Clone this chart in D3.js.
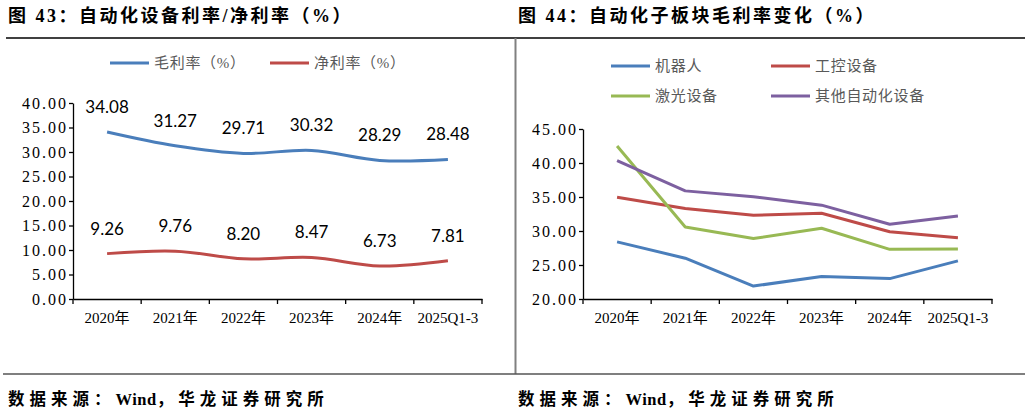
<!DOCTYPE html>
<html>
<head>
<meta charset="utf-8">
<script src="https://cdn.jsdelivr.net/npm/d3@7"></script>
<style>
  body { margin: 0; background: #fff; }
  svg { display: block; }
  .title { font-family: "Liberation Serif", "Noto Sans CJK SC"; font-weight: bold; font-size: 18px; letter-spacing: 2.5px; fill: #000; }
  .source { font-family: "Liberation Serif", "Noto Sans CJK SC"; font-weight: bold; font-size: 16.5px; letter-spacing: 5px; fill: #000; }
  .legend text { font-family: "Liberation Serif", "Noto Sans CJK SC"; font-size: 15px; letter-spacing: 0.7px; fill: #595959; }
  .axis text { font-family: "Liberation Serif", "Noto Sans CJK SC"; font-size: 15px; fill: #000; }
  .axis path, .axis line { stroke: #000; stroke-width: 1.3; }
  .ylab text { font-size: 16px; letter-spacing: 2px; }
  .dlabel { font-family: Lato, "Liberation Sans"; font-size: 17px; fill: #000; }
</style>
</head>
<body>
<script>
// Categories and values
var years = ["2020年", "2021年", "2022年", "2023年", "2024年", "2025Q1-3"];
var grossMargin = [34.08, 31.27, 29.71, 30.32, 28.29, 28.48];
var netMargin = [9.26, 9.76, 8.20, 8.47, 6.73, 7.81];

var robot = [28.4, 26.0, 21.9, 23.3, 23.0, 25.6];
var control = [34.95, 33.3, 32.3, 32.6, 29.9, 29.0];
var laser = [42.5, 30.6, 28.9, 30.4, 27.3, 27.35];
var other = [40.35, 35.9, 35.05, 33.8, 31.0, 32.2];

var leftTicks = [0, 5, 10, 15, 20, 25, 30, 35, 40];
var rightTicks = [20, 25, 30, 35, 40, 45];

var w = 1025, h = 417;
var blue = "#4A7EBB", red = "#BE4B48", green = "#98B954", purple = "#7D60A0";

var svg = d3.select("body").append("svg")
    .attr("width", w)
    .attr("height", h);

// Frame lines
svg.append("line").attr("x1", 6).attr("x2", w).attr("y1", 38).attr("y2", 38)
    .attr("stroke", "#000").attr("stroke-width", 1.5);
svg.append("line").attr("x1", 515.5).attr("x2", 515.5).attr("y1", 38).attr("y2", 374)
    .attr("stroke", "#808080").attr("stroke-width", 2);
svg.append("line").attr("x1", 3).attr("x2", w).attr("y1", 374).attr("y2", 374)
    .attr("stroke", "#555").attr("stroke-width", 1.3);

// Titles and sources
svg.append("text").attr("class", "title").attr("x", 8).attr("y", 22)
    .text("图 43：自动化设备利率/净利率（%）");
svg.append("text").attr("class", "title").attr("x", 518).attr("y", 22)
    .text("图 44：自动化子板块毛利率变化（%）");

function addSource(x) {
  var t = svg.append("text").attr("class", "source").attr("x", x).attr("y", 405);
  t.append("tspan").text("数据来源：");
  t.append("tspan").style("letter-spacing", "0.5px").text("Wind");
  t.append("tspan").text("，华龙证券研究所");
}
addSource(8);
addSource(518);

// Draw one panel: axes, lines, and optional labels
function drawPanel(opts) {
  var x = d3.scaleBand().domain(years).range([opts.x0, opts.x1]);
  var y = d3.scaleLinear().domain(opts.domain).range([299, opts.yTop]);

  var g = svg.append("g");

  // y axis
  g.append("g")
      .attr("class", "axis ylab")
      .attr("transform", "translate(" + opts.x0 + ",0)")
      .call(d3.axisLeft(y).tickValues(opts.ticks).tickFormat(d3.format(".2f"))
        .tickSize(4).tickSizeOuter(0).tickPadding(1));

  // x axis, labels only, tick marks on band edges
  var xa = g.append("g")
      .attr("class", "axis")
      .attr("transform", "translate(0,299)")
      .call(d3.axisBottom(x).tickSize(0).tickSizeOuter(0).tickPadding(13));
  xa.selectAll(".tick text").attr("dy", "0.71em");
  var edges = years.map(function(d) { return x(d); }).concat([opts.x1]);
  xa.selectAll(".edge")
      .data(edges)
      .enter().append("line")
      .attr("x1", function(d) { return d; })
      .attr("x2", function(d) { return d; })
      .attr("y1", 0).attr("y2", 5);

  var line = d3.line()
      .x(function(d, i) { return x(years[i]) + x.bandwidth() / 2; })
      .y(function(d) { return y(d); })
      .curve(opts.smooth ? d3.curveCatmullRom.alpha(0.5) : d3.curveLinear);

  opts.series.forEach(function(s) {
    g.append("path")
        .datum(s.values)
        .attr("fill", "none")
        .attr("stroke", s.color)
        .attr("stroke-width", 3)
        .attr("stroke-linejoin", "round")
        .attr("d", line);

    if (opts.labels) {
      g.selectAll(null)
          .data(s.values)
          .enter().append("text")
          .attr("class", "dlabel")
          .attr("text-anchor", "middle")
          .attr("x", function(d, i) { return x(years[i]) + x.bandwidth() / 2; })
          .attr("y", function(d) { return y(d) - 19; })
          .text(function(d) { return d.toFixed(2); });
    }
  });

  // Legend
  var lg = svg.append("g").attr("class", "legend");
  opts.legend.forEach(function(l) {
    lg.append("line")
        .attr("x1", l.x).attr("x2", l.x + 39)
        .attr("y1", l.y).attr("y2", l.y)
        .attr("stroke", l.color).attr("stroke-width", 3);
    lg.append("text")
        .attr("x", l.x + 44).attr("y", l.y)
        .attr("dy", "0.36em")
        .text(l.name);
  });
}

drawPanel({
  x0: 73, x1: 482, yTop: 103, domain: [0, 40], ticks: leftTicks,
  smooth: true, labels: true,
  series: [
    { values: grossMargin, color: blue },
    { values: netMargin, color: red }
  ],
  legend: [
    { name: "毛利率（%）", color: blue, x: 110, y: 63 },
    { name: "净利率（%）", color: red, x: 270, y: 63 }
  ]
});

drawPanel({
  x0: 583, x1: 992, yTop: 129, domain: [20, 45], ticks: rightTicks,
  smooth: false, labels: false,
  series: [
    { values: robot, color: blue },
    { values: control, color: red },
    { values: laser, color: green },
    { values: other, color: purple }
  ],
  legend: [
    { name: "机器人", color: blue, x: 611, y: 66 },
    { name: "工控设备", color: red, x: 771, y: 66 },
    { name: "激光设备", color: green, x: 611, y: 96 },
    { name: "其他自动化设备", color: purple, x: 771, y: 96 }
  ]
});
</script>
</body>
</html>
